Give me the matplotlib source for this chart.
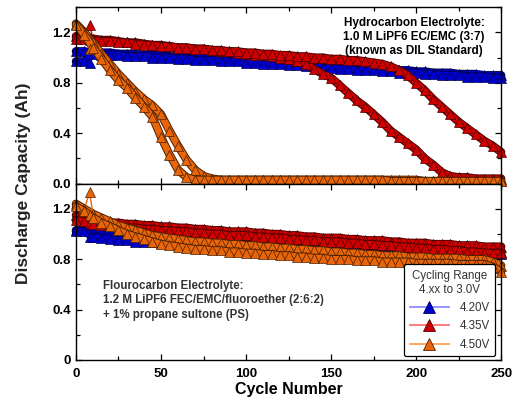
import matplotlib.pyplot as plt
import matplotlib.patheffects as pe
from matplotlib.lines import Line2D
from matplotlib.ticker import MultipleLocator, FormatStrFormatter

plt.rcParams['font.family'] = ['Liberation Sans', 'DejaVu Sans']

# cycle numbers where values were read (extra point at cycle 8 for the check-up spike)
cycles = [0, 5, 8, 10, 15, 20, 25, 30, 35, 40, 45, 50, 55, 60, 65, 70, 75, 80, 85, 90,
          95, 100, 105, 110, 115, 120, 125, 130, 135, 140, 145, 150, 155, 160, 165, 170,
          175, 180, 185, 190, 195, 200, 205, 210, 215, 220, 225, 230, 235, 240, 245, 250]
spike_cycle = 8

# ---- top panel: hydrocarbon electrolyte (two cells per voltage)
hc_420_a = [1.05, 1.05, 1.05, 1.04, 1.04, 1.04, 1.03, 1.03, 1.03, 1.02, 1.02, 1.02, 1.01, 1.01,
            1.00, 1.00, 1.00, 0.99, 0.99, 0.99, 0.98, 0.98, 0.97, 0.97, 0.97, 0.96, 0.96, 0.95,
            0.95, 0.94, 0.94, 0.93, 0.93, 0.92, 0.92, 0.92, 0.91, 0.91, 0.90, 0.90, 0.90, 0.89,
            0.89, 0.88, 0.88, 0.88, 0.87, 0.87, 0.87, 0.86, 0.86, 0.86]
hc_420_b = [0.97, 0.97, 0.96, 1.03, 1.02, 1.02, 1.02, 1.01, 1.01, 1.01, 1.00, 1.00, 1.00, 0.99,
            0.99, 0.98, 0.98, 0.98, 0.97, 0.97, 0.97, 0.96, 0.96, 0.95, 0.95, 0.95, 0.94, 0.94,
            0.93, 0.93, 0.92, 0.92, 0.91, 0.91, 0.90, 0.90, 0.90, 0.89, 0.89, 0.88, 0.88, 0.88,
            0.87, 0.87, 0.86, 0.86, 0.86, 0.85, 0.85, 0.85, 0.84, 0.84]
hc_435_a = [1.17, 1.16, 1.26, 1.15, 1.14, 1.14, 1.13, 1.12, 1.12, 1.11, 1.10, 1.10, 1.09, 1.08,
            1.08, 1.07, 1.07, 1.06, 1.05, 1.05, 1.04, 1.03, 1.02, 1.02, 1.01, 1.00, 0.99, 0.97,
            0.95, 0.91, 0.87, 0.84, 0.78, 0.72, 0.66, 0.61, 0.55, 0.49, 0.42, 0.37, 0.32, 0.27,
            0.20, 0.15, 0.09, 0.06, 0.05, 0.05, 0.04, 0.04, 0.04, 0.04]
hc_435_b = [1.15, 1.15, 1.14, 1.14, 1.13, 1.13, 1.12, 1.12, 1.11, 1.10, 1.10, 1.09, 1.09, 1.08,
            1.08, 1.07, 1.07, 1.06, 1.06, 1.05, 1.05, 1.04, 1.04, 1.03, 1.03, 1.02, 1.02, 1.01,
            1.01, 1.00, 1.00, 0.99, 0.99, 0.98, 0.98, 0.97, 0.96, 0.95, 0.93, 0.90, 0.86, 0.80,
            0.74, 0.67, 0.61, 0.55, 0.49, 0.44, 0.39, 0.34, 0.30, 0.25]
hc_450_a = [1.27, 1.20, 1.15, 1.12, 1.03, 0.95, 0.87, 0.80, 0.73, 0.67, 0.62, 0.55, 0.42, 0.30,
            0.19, 0.11, 0.06, 0.04, 0.03, 0.03, 0.03, 0.03, 0.03, 0.03, 0.03, 0.03, 0.03, 0.03,
            0.03, 0.03, 0.03, 0.03, 0.03, 0.03, 0.03, 0.03, 0.03, 0.03, 0.03, 0.03, 0.03, 0.03,
            0.02, 0.02, 0.02, 0.02, 0.02, 0.02, 0.02, 0.02, 0.02, 0.02]
hc_450_b = [1.26, 1.18, 1.07, 1.08, 0.99, 0.90, 0.82, 0.76, 0.68, 0.61, 0.53, 0.37, 0.23, 0.11,
            0.05, 0.03, 0.03, 0.03, 0.03, 0.03, 0.03, 0.03, 0.03, 0.03, 0.03, 0.03, 0.03, 0.03,
            0.03, 0.03, 0.03, 0.03, 0.03, 0.03, 0.03, 0.03, 0.03, 0.03, 0.02, 0.02, 0.02, 0.02,
            0.02, 0.02, 0.02, 0.02, 0.02, 0.02, 0.02, 0.02, 0.02, 0.02]

# ---- bottom panel: fluorocarbon electrolyte
fc_420_a = [1.03, 1.03, 1.03, 1.02, 1.02, 1.01, 1.01, 1.00, 1.00, 0.99, 0.99, 0.98, 0.98, 0.98,
            0.97, 0.97, 0.97, 0.96, 0.96, 0.96, 0.95, 0.95, 0.95, 0.94, 0.94, 0.94, 0.93, 0.93,
            0.93, 0.92, 0.92, 0.92, 0.91, 0.91, 0.91, 0.90, 0.90, 0.90, 0.89, 0.89, 0.89, 0.89,
            0.88, 0.88, 0.88, 0.88, 0.87, 0.87, 0.87, 0.87, 0.87, 0.86]
fc_420_b = [1.02, 1.02, 0.98, 0.98, 0.97, 0.96, 0.95, 0.95, 0.94, 0.94, 0.94, 0.93, 0.93, 0.93,
            0.92, 0.92, 0.92, 0.92, 0.91, 0.91, 0.91, 0.91, 0.90, 0.90, 0.90, 0.90, 0.89, 0.89,
            0.89, 0.89, 0.88, 0.88, 0.88, 0.88, 0.87, 0.87, 0.87, 0.87, 0.87, 0.86, 0.86, 0.86,
            0.86, 0.86, 0.85, 0.85, 0.85, 0.85, 0.85, 0.85, 0.84, 0.84]
fc_435_a = [1.15, 1.13, 1.12, 1.11, 1.10, 1.09, 1.09, 1.08, 1.08, 1.07, 1.07, 1.06, 1.06, 1.05,
            1.05, 1.04, 1.04, 1.03, 1.03, 1.02, 1.02, 1.02, 1.01, 1.01, 1.00, 1.00, 0.99, 0.99,
            0.98, 0.98, 0.97, 0.97, 0.97, 0.96, 0.96, 0.95, 0.95, 0.95, 0.94, 0.94, 0.93, 0.93,
            0.93, 0.92, 0.92, 0.92, 0.91, 0.91, 0.91, 0.90, 0.90, 0.90]
fc_435_b = [1.11, 1.10, 1.09, 1.08, 1.07, 1.06, 1.06, 1.05, 1.05, 1.04, 1.04, 1.03, 1.03, 1.02,
            1.02, 1.01, 1.01, 1.00, 1.00, 0.99, 0.99, 0.99, 0.98, 0.98, 0.97, 0.97, 0.96, 0.96,
            0.95, 0.95, 0.94, 0.94, 0.94, 0.93, 0.93, 0.92, 0.92, 0.91, 0.91, 0.90, 0.90, 0.89,
            0.89, 0.88, 0.88, 0.87, 0.87, 0.86, 0.86, 0.85, 0.85, 0.85]
fc_450_a = [1.24, 1.20, 1.33, 1.16, 1.13, 1.10, 1.07, 1.05, 1.03, 1.01, 0.99, 0.98, 0.97, 0.96,
            0.95, 0.94, 0.94, 0.93, 0.93, 0.92, 0.92, 0.91, 0.91, 0.90, 0.90, 0.89, 0.89, 0.88,
            0.88, 0.87, 0.87, 0.86, 0.86, 0.85, 0.85, 0.84, 0.84, 0.83, 0.83, 0.83, 0.82, 0.82,
            0.82, 0.81, 0.81, 0.81, 0.81, 0.80, 0.80, 0.80, 0.78, 0.75]
fc_450_b = [1.22, 1.18, 1.15, 1.13, 1.09, 1.06, 1.03, 1.00, 0.98, 0.96, 0.94, 0.92, 0.91, 0.90,
            0.89, 0.88, 0.88, 0.87, 0.87, 0.86, 0.86, 0.85, 0.85, 0.84, 0.84, 0.83, 0.83, 0.82,
            0.82, 0.81, 0.81, 0.80, 0.80, 0.80, 0.79, 0.79, 0.79, 0.78, 0.78, 0.78, 0.78, 0.77,
            0.77, 0.77, 0.77, 0.77, 0.76, 0.76, 0.76, 0.76, 0.74, 0.70]

voltages = ["4.20V", "4.35V", "4.50V"]
fills = ["#0000d0", "#d00000", "#e8650a"]
edges = ["#000050", "#4a0000", "#4a2000"]
lines = ["#8c8cff", "#ff7070", "#ffa050"]

top_sets = [(hc_420_a, hc_420_b), (hc_435_a, hc_435_b), (hc_450_a, hc_450_b)]
bot_sets = [(fc_420_a, fc_420_b), (fc_435_a, fc_435_b), (fc_450_a, fc_450_b)]

fig, (ax1, ax2) = plt.subplots(2, 1, figsize=(5.13, 4.0), dpi=100, sharex=True)
fig.subplots_adjust(left=0.148, right=0.977, top=0.982, bottom=0.10, hspace=0)

for ax, sets in [(ax1, top_sets), (ax2, bot_sets)]:
    for i in range(3):
        for s in sets[i]:
            # the original has a marker every cycle, which reads as a solid band;
            # the band skips the check-up cycle so that spike stays a thin line
            bx = [c for c in cycles if c != spike_cycle]
            by = [v for c, v in zip(cycles, s) if c != spike_cycle]
            ax.plot(bx, by, color=fills[i], lw=4.6, solid_joinstyle="round",
                    solid_capstyle="round", zorder=3 + i, clip_on=False,
                    path_effects=[pe.Stroke(linewidth=6.0, foreground=edges[i]), pe.Normal()])
            ax.plot(cycles, s, color=fills[i], lw=1.0, marker="^", ms=6.5, mfc=fills[i],
                    mec=edges[i], mew=0.5, zorder=3 + i, clip_on=False)
    ax.set_xlim(0, 250)
    ax.set_ylim(0, 1.4)
    ax.xaxis.set_major_locator(MultipleLocator(50))
    ax.xaxis.set_minor_locator(MultipleLocator(25))
    ax.yaxis.set_major_locator(MultipleLocator(0.4))
    ax.yaxis.set_minor_locator(MultipleLocator(0.2))
    ax.tick_params(which="both", direction="in", top=True, right=True, width=0.9)
    ax.tick_params(which="major", length=4, labelsize=9.5)
    ax.tick_params(which="minor", length=3)
    ax.tick_params(axis="x", pad=6)
    for sp in ax.spines.values():
        sp.set_linewidth(1.0)
        sp.set_zorder(12)

ax1.yaxis.set_major_formatter(FormatStrFormatter("%.1f"))
ax2.yaxis.set_major_formatter(lambda v, p: "0" if v == 0 else "%.1f" % v)
ax1.tick_params(labelbottom=False)
for ax in (ax1, ax2):
    for lab in ax.get_xticklabels() + ax.get_yticklabels():
        lab.set_fontweight("bold")

ax2.set_xlabel("Cycle Number", fontsize=11.5, fontweight="bold", labelpad=1)
fig.text(0.045, 0.542, "Discharge Capacity (Ah)", rotation=90, ha="center", va="center",
         fontsize=12.5, fontweight="bold", color="#222222")

ax1.text(0.795, 0.945, "Hydrocarbon Electrolyte:\n1.0 M LiPF6 EC/EMC (3:7)\n(known as DIL Standard)",
         transform=ax1.transAxes, ha="center", va="top", fontsize=8.5, fontweight="bold",
         linespacing=1.2, zorder=15)
ax2.text(0.063, 0.455, "Flourocarbon Electrolyte:\n1.2 M LiPF6 FEC/EMC/fluoroether (2:6:2)\n+ 1% propane sultone (PS)",
         transform=ax2.transAxes, ha="left", va="top", fontsize=8.3, fontweight="bold",
         color="#333333", linespacing=1.3)

handles = [Line2D([], [], color=lines[i], lw=1.3, marker="^", ms=8, mfc=fills[i],
                  mec=edges[i], mew=0.6) for i in range(3)]
leg = ax2.legend(handles, voltages, title="Cycling Range\n4.xx to 3.0V", loc="lower right",
                 fontsize=8.3, title_fontsize=8.3, frameon=True, fancybox=True,
                 edgecolor="black", framealpha=1, handlelength=3.4, borderpad=0.5,
                 labelspacing=0.55, handletextpad=0.9, bbox_to_anchor=(1.0, -0.012))
leg.get_frame().set_linewidth(0.9)
leg.get_title().set_multialignment("center")
for t in leg.get_texts():
    t.set_color("#333333")
leg.get_title().set_color("#333333")
leg.set_zorder(20)

fig.savefig("out.png", dpi=100)
